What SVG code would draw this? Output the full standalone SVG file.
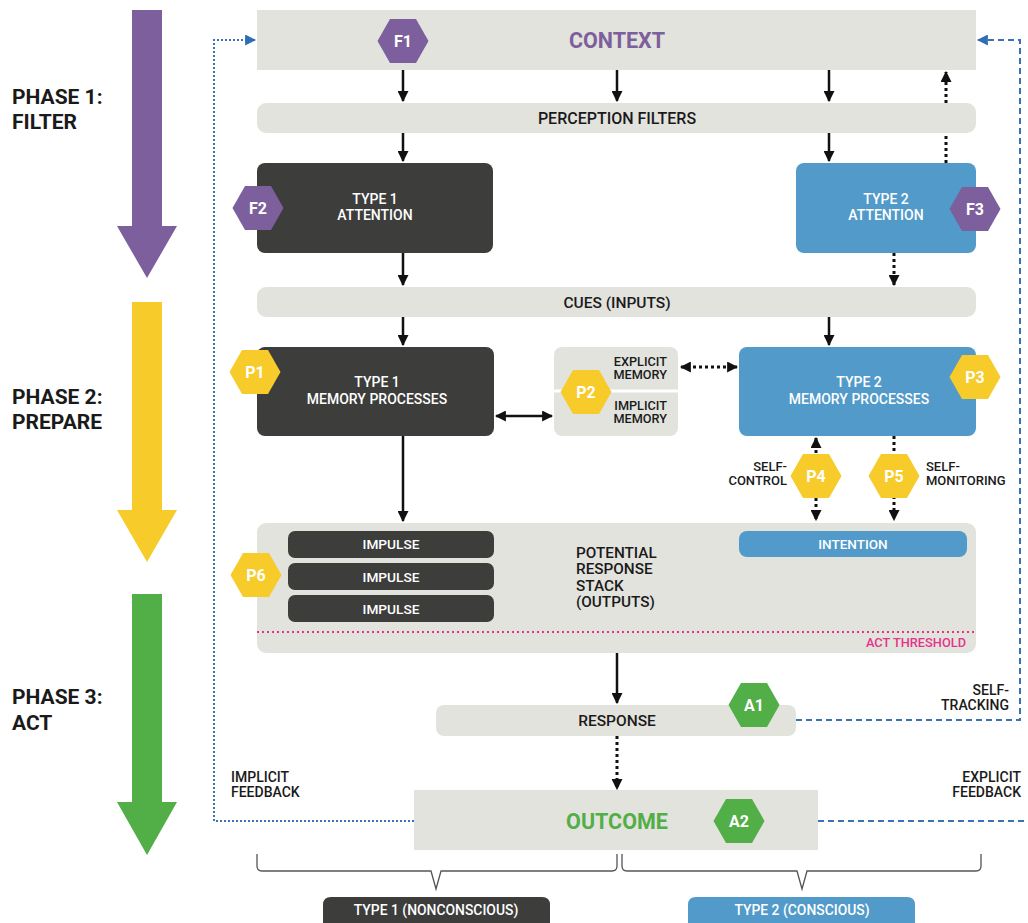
<svg xmlns="http://www.w3.org/2000/svg" xmlns:xlink="http://www.w3.org/1999/xlink" width="1028" height="923" viewBox="0 0 1028 923">
<style>
.t{font-family:Roboto,"Liberation Sans",sans-serif;font-weight:500;}
.b{font-family:Roboto,"Liberation Sans",sans-serif;font-weight:700;}
.gray{fill:#e3e3de;}
.dark{fill:#3d3d3b;}
.blue{fill:#519ac9;}
.w{fill:#ffffff;}
.k{fill:#1a1a1a;}
.hl{font-family:Roboto,"Liberation Sans",sans-serif;font-weight:700;font-size:16px;fill:#fff;text-anchor:middle;}
.solid{stroke:#111;stroke-width:2.5;fill:none;}
.dot{stroke:#111;stroke-width:3;stroke-dasharray:3 3;fill:none;}
.fbdot{stroke:#3a72b8;stroke-width:2;stroke-dasharray:2 2;fill:none;}
.fbdash{stroke:#3a72b8;stroke-width:2;stroke-dasharray:6 4;fill:none;}
</style>
<defs>
<polygon id="hex" points="-25.5,0 -13,-22 13,-22 25.5,0 13,22 -13,22"/>
<marker id="ah" viewBox="0 0 10 10" refX="9" refY="5" markerWidth="11" markerHeight="11" markerUnits="userSpaceOnUse" orient="auto-start-reverse"><path d="M0,0 L10,5 L0,10 z" fill="#111"/></marker>
<marker id="bh" viewBox="0 0 10 10" refX="9" refY="5" markerWidth="11" markerHeight="11" markerUnits="userSpaceOnUse" orient="auto"><path d="M0,0 L10,5 L0,10 z" fill="#2f6db5"/></marker>
</defs>
<rect width="1028" height="923" fill="#ffffff"/>

<!-- phase arrows -->
<g id="phase1">
<polygon points="132,10 162,10 162,226 177,226 147,278 117,226 132,226" fill="#7c5f9c"/>
<text class="b k" x="12" y="104" font-size="21">PHASE 1:</text>
<text class="b k" x="12" y="129" font-size="21">FILTER</text>
</g>
<g id="phase2">
<polygon points="132,302 162,302 162,510 177,510 147,562 117,510 132,510" fill="#f7cb2a"/>
<text class="b k" x="12" y="404" font-size="21">PHASE 2:</text>
<text class="b k" x="12" y="429" font-size="21">PREPARE</text>
</g>
<g id="phase3">
<polygon points="132,594 162,594 162,802 177,802 147,855 117,802 132,802" fill="#52ae47"/>
<text class="b k" x="12" y="704" font-size="21">PHASE 3:</text>
<text class="b k" x="12" y="730" font-size="21">ACT</text>
</g>

<!-- connectors -->
<g id="connectors">
<line class="dot" x1="946" y1="163" x2="946" y2="72" marker-end="url(#ah)"/>
<line class="solid" x1="403" y1="70" x2="403" y2="101" marker-end="url(#ah)"/>
<line class="solid" x1="617" y1="70" x2="617" y2="101" marker-end="url(#ah)"/>
<line class="solid" x1="829" y1="70" x2="829" y2="101" marker-end="url(#ah)"/>
<line class="solid" x1="403" y1="133" x2="403" y2="161" marker-end="url(#ah)"/>
<line class="solid" x1="829" y1="133" x2="829" y2="161" marker-end="url(#ah)"/>
<line class="solid" x1="403" y1="253" x2="403" y2="285" marker-end="url(#ah)"/>
<line class="dot" x1="894" y1="253" x2="894" y2="285" marker-end="url(#ah)"/>
<line class="solid" x1="403" y1="317" x2="403" y2="345" marker-end="url(#ah)"/>
<line class="solid" x1="829" y1="317" x2="829" y2="345" marker-end="url(#ah)"/>
<line class="solid" x1="496" y1="416" x2="552" y2="416" marker-start="url(#ah)" marker-end="url(#ah)"/>
<line class="dot" x1="681" y1="367" x2="737" y2="367" marker-start="url(#ah)" marker-end="url(#ah)"/>
<line class="solid" x1="403" y1="436" x2="403" y2="521" marker-end="url(#ah)"/>
<line class="dot" x1="816" y1="438" x2="816" y2="520" marker-start="url(#ah)" marker-end="url(#ah)"/>
<line class="dot" x1="894" y1="436" x2="894" y2="520" marker-end="url(#ah)"/>
<line class="solid" x1="617" y1="653" x2="617" y2="703" marker-end="url(#ah)"/>
<line class="dot" x1="617" y1="736" x2="617" y2="789" marker-end="url(#ah)"/>
<polyline class="fbdot" points="414,821 214,821 214,40 255,40" marker-end="url(#bh)"/>
<polyline class="fbdash" points="796,720 1020,720 1020,40 978,40" marker-end="url(#bh)"/>
<line class="fbdash" x1="818" y1="821" x2="1028" y2="821"/>
</g>

<!-- nodes -->
<g id="context">
<rect class="gray" x="257" y="10" width="719" height="60"/>
<text class="b" x="617" y="48" font-size="21.5" text-anchor="middle" fill="#7c5f9c">CONTEXT</text>
<use href="#hex" x="403" y="41" fill="#7c5f9c"/>
<text class="hl" x="403" y="47">F1</text>
</g>
<g id="perception-filters">
<rect class="gray" x="257" y="103" width="719" height="30" rx="9"/>
<text class="t k" x="617" y="124" font-size="16" text-anchor="middle">PERCEPTION FILTERS</text>
</g>
<g id="type1-attention">
<rect class="dark" x="257" y="163" width="236" height="90" rx="8"/>
<text class="t w" x="375" y="204" font-size="14" text-anchor="middle">TYPE 1</text>
<text class="t w" x="375" y="220" font-size="14" text-anchor="middle">ATTENTION</text>
<use href="#hex" x="258" y="208" fill="#7c5f9c"/>
<text class="hl" x="258" y="214">F2</text>
</g>
<g id="type2-attention">
<rect class="blue" x="796" y="163" width="180" height="90" rx="8"/>
<text class="t w" x="886" y="204" font-size="14" text-anchor="middle">TYPE 2</text>
<text class="t w" x="886" y="220" font-size="14" text-anchor="middle">ATTENTION</text>
<use href="#hex" x="975" y="209" fill="#7c5f9c"/>
<text class="hl" x="975" y="215">F3</text>
</g>
<g id="cues">
<rect class="gray" x="257" y="287" width="719" height="30" rx="9"/>
<text class="t k" x="617" y="308" font-size="15.5" text-anchor="middle">CUES (INPUTS)</text>
</g>
<g id="type1-memory">
<rect class="dark" x="257" y="347" width="237" height="89" rx="8"/>
<text class="t w" x="377" y="387" font-size="14" text-anchor="middle">TYPE 1</text>
<text class="t w" x="377" y="404" font-size="14" text-anchor="middle">MEMORY PROCESSES</text>
<use href="#hex" x="255" y="372" fill="#f7cb2a"/>
<text class="hl" x="255" y="378">P1</text>
</g>
<g id="memory-store">
<rect class="gray" x="554" y="347" width="124" height="89" rx="8"/>
<line x1="554" y1="391" x2="678" y2="391" stroke="#ffffff" stroke-width="3"/>
<text class="t k" x="667" y="366" font-size="12.7" text-anchor="end">EXPLICIT</text>
<text class="t k" x="667" y="379" font-size="12.7" text-anchor="end">MEMORY</text>
<text class="t k" x="667" y="410" font-size="12.7" text-anchor="end">IMPLICIT</text>
<text class="t k" x="667" y="423" font-size="12.7" text-anchor="end">MEMORY</text>
<use href="#hex" x="586" y="392" fill="#f7cb2a"/>
<text class="hl" x="586" y="398">P2</text>
</g>
<g id="type2-memory">
<rect class="blue" x="739" y="347" width="237" height="89" rx="8"/>
<text class="t w" x="859" y="387" font-size="14" text-anchor="middle">TYPE 2</text>
<text class="t w" x="859" y="404" font-size="14" text-anchor="middle">MEMORY PROCESSES</text>
<use href="#hex" x="975" y="377" fill="#f7cb2a"/>
<text class="hl" x="975" y="383">P3</text>
</g>
<g id="self-control">
<use href="#hex" x="816" y="476" fill="#f7cb2a"/>
<text class="hl" x="816" y="482">P4</text>
<text class="t k" x="787" y="471" font-size="13" text-anchor="end">SELF-</text>
<text class="t k" x="787" y="485" font-size="13" text-anchor="end">CONTROL</text>
</g>
<g id="self-monitoring">
<use href="#hex" x="894" y="476" fill="#f7cb2a"/>
<text class="hl" x="894" y="482">P5</text>
<text class="t k" x="926" y="471" font-size="13">SELF-</text>
<text class="t k" x="926" y="485" font-size="13">MONITORING</text>
</g>
<g id="response-stack">
<rect class="gray" x="257" y="523" width="719" height="130" rx="9"/>
<rect class="dark" x="288" y="531" width="206" height="27" rx="7"/>
<rect class="dark" x="288" y="563" width="206" height="27" rx="7"/>
<rect class="dark" x="288" y="595" width="206" height="27" rx="7"/>
<text class="t w" x="391" y="549" font-size="13.7" text-anchor="middle">IMPULSE</text>
<text class="t w" x="391" y="582" font-size="13.7" text-anchor="middle">IMPULSE</text>
<text class="t w" x="391" y="614" font-size="13.7" text-anchor="middle">IMPULSE</text>
<text class="t k" x="576" y="558" font-size="15.3">POTENTIAL</text>
<text class="t k" x="576" y="574" font-size="15.3">RESPONSE</text>
<text class="t k" x="576" y="591" font-size="15.3">STACK</text>
<text class="t k" x="576" y="607" font-size="15.3">(OUTPUTS)</text>
<rect class="blue" x="739" y="531" width="228" height="26" rx="8"/>
<text class="t w" x="853" y="549" font-size="13.5" text-anchor="middle">INTENTION</text>
<line x1="257" y1="632" x2="976" y2="632" stroke="#e5338b" stroke-width="2" stroke-dasharray="2 3"/>
<text class="t" x="966" y="647" font-size="12.8" text-anchor="end" fill="#e5338b">ACT THRESHOLD</text>
<use href="#hex" x="256" y="575" fill="#f7cb2a"/>
<text class="hl" x="256" y="581">P6</text>
</g>
<g id="response">
<rect class="gray" x="436" y="705" width="360" height="31" rx="8"/>
<text class="t k" x="617" y="726" font-size="15.5" text-anchor="middle">RESPONSE</text>
<use href="#hex" x="754" y="705" fill="#52ae47"/>
<text class="hl" x="754" y="711">A1</text>
</g>
<g id="outcome">
<rect class="gray" x="414" y="790" width="404" height="60"/>
<text class="b" x="617" y="829" font-size="21.5" text-anchor="middle" fill="#52ae47">OUTCOME</text>
<use href="#hex" x="739" y="821" fill="#52ae47"/>
<text class="hl" x="739" y="827">A2</text>
</g>
<g id="feedback-labels">
<text class="t k" x="1009" y="695" font-size="14" text-anchor="end">SELF-</text>
<text class="t k" x="1009" y="710" font-size="14" text-anchor="end">TRACKING</text>
<text class="t k" x="231" y="782" font-size="14">IMPLICIT</text>
<text class="t k" x="231" y="797" font-size="14">FEEDBACK</text>
<text class="t k" x="1021" y="782" font-size="14" text-anchor="end">EXPLICIT</text>
<text class="t k" x="1021" y="797" font-size="14" text-anchor="end">FEEDBACK</text>
</g>
<g id="braces" fill="none" stroke="#555" stroke-width="1.3">
<path d="M257,854 V866 Q257,871 262,871 H431 L436,889 L441,871 H612 Q617,871 617,866 V854"/>
<path d="M622,854 V866 Q622,871 627,871 H797 L802,889 L807,871 H976 Q981,871 981,866 V854"/>
</g>
<g id="type1-label">
<path class="dark" d="M323,923 V905 Q323,897 331,897 H542 Q550,897 550,905 V923 Z"/>
<text class="t w" x="436" y="915" font-size="13.9" text-anchor="middle">TYPE 1 (NONCONSCIOUS)</text>
</g>
<g id="type2-label">
<path class="blue" d="M688,923 V905 Q688,897 696,897 H907 Q915,897 915,905 V923 Z"/>
<text class="t w" x="802" y="915" font-size="13.9" text-anchor="middle">TYPE 2 (CONSCIOUS)</text>
</g>
</svg>
